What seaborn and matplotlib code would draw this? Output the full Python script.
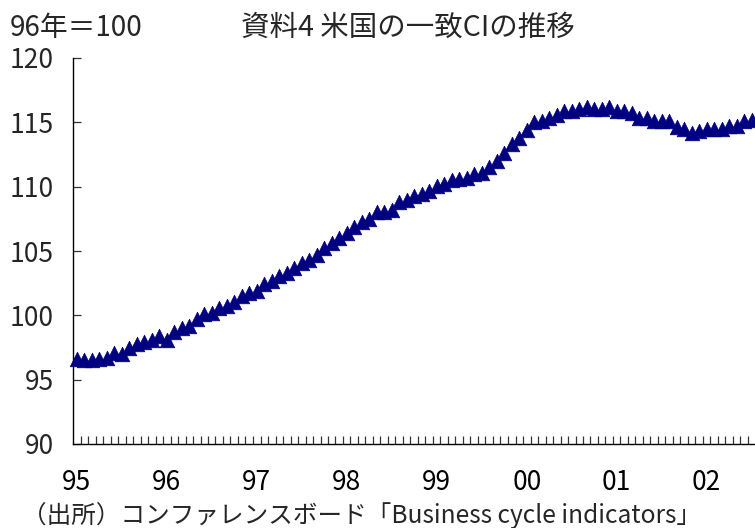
import matplotlib
matplotlib.use("Agg")
import matplotlib.pyplot as plt
from matplotlib.ticker import FixedLocator, NullFormatter
import seaborn as sns
import pandas as pd

# US coincident composite index (1996 = 100), monthly, Jan 1995 - Jul 2002
ci_1995 = [96.6, 96.5, 96.5, 96.6, 96.7, 97.1, 97.0, 97.5, 97.8, 97.9, 98.1, 98.4]
ci_1996 = [98.1, 98.7, 99.0, 99.2, 99.7, 100.1, 100.2, 100.6, 100.7, 101.0, 101.5, 101.7]
ci_1997 = [101.9, 102.4, 102.7, 103.05, 103.3, 103.7, 104.1, 104.3, 104.7, 105.25, 105.6, 106.0]
ci_1998 = [106.4, 106.9, 107.25, 107.5, 108.0, 108.0, 108.2, 108.8, 109.0, 109.3, 109.4, 109.7]
ci_1999 = [110.05, 110.2, 110.5, 110.6, 110.7, 111.0, 111.1, 111.5, 112.0, 112.6, 113.3, 113.8]
ci_2000 = [114.4, 115.0, 115.1, 115.35, 115.6, 115.9, 115.9, 116.0, 116.2, 116.05, 116.05, 116.2]
ci_2001 = [115.9, 115.9, 115.75, 115.35, 115.3, 115.1, 115.1, 115.1, 114.6, 114.5, 114.2, 114.3]
ci_2002 = [114.45, 114.45, 114.5, 114.75, 114.75, 115.1, 115.2]

year_labels = ["95", "96", "97", "98", "99", "00", "01", "02"]
y_ticks = [90, 95, 100, 105, 110, 115, 120]

values = ci_1995 + ci_1996 + ci_1997 + ci_1998 + ci_1999 + ci_2000 + ci_2001 + ci_2002
df = pd.DataFrame({"month": range(len(values)), "ci": values})

sns.set_theme(style="white")
plt.rcParams["font.family"] = ["Noto Sans CJK JP", "DejaVu Sans"]

W, H = 755, 528
fig = plt.figure(figsize=(W / 100, H / 100), dpi=100)
ax = fig.add_axes([73 / W, (H - 444) / H, (W - 73) / W, (444 - 58) / H])

sns.scatterplot(data=df, x="month", y="ci", ax=ax, marker="^", s=10.5 ** 2,
                color="#000080", edgecolor="#000080", linewidth=0.5,
                clip_on=False, zorder=3, legend=False)

# category axis: one slot per month, slot edges carry the small ticks
px_per_month = 7.5
ax.set_xlim(-0.5, -0.5 + (W - 73) / px_per_month)
ax.set_ylim(90, 120)
ax.set_xticks([12 * k for k in range(len(year_labels))])
ax.set_xticklabels(year_labels)
ax.xaxis.set_minor_locator(FixedLocator([k - 0.5 for k in range(1, 100)]))
ax.xaxis.set_minor_formatter(NullFormatter())
ax.tick_params(axis="x", which="major", length=0, pad=18, labelsize=19, colors="black")
ax.tick_params(axis="x", which="minor", direction="in", length=5.5, width=0.9,
               color="#333333", bottom=True)
ax.set_yticks(y_ticks)
ax.tick_params(axis="y", which="major", direction="in", length=5.5, width=0.9,
               color="#333333", pad=14, labelsize=19, left=True)
ax.set_xlabel("")
ax.set_ylabel("")

for side in ("top", "right"):
    ax.spines[side].set_visible(False)
for side in ("left", "bottom"):
    ax.spines[side].set_color("black")
    ax.spines[side].set_linewidth(1.0)

fig.text(10 / W, 1 - 28 / H, "96年＝100", fontsize=20, ha="left", va="center")
fig.text(408 / W, 1 - 28 / H, "資料4 米国の一致CIの推移", fontsize=20.5, ha="center", va="center")
fig.text(22 / W, 1 - 515 / H, "（出所）コンファレンスボード「Business cycle indicators」",
         fontsize=17.7, ha="left", va="center")

fig.savefig("out.png", dpi=100, facecolor="white")
